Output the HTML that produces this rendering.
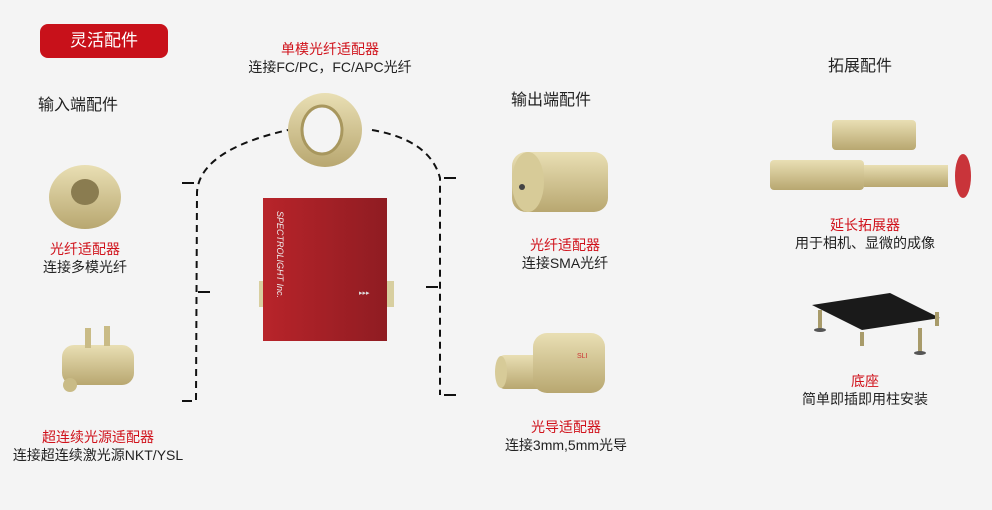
<!DOCTYPE html>
<html><head><meta charset="utf-8"><style>
body{margin:0;background:#f4f4f4;}
.w{position:relative;width:992px;height:510px;overflow:hidden;background:#f4f4f4;font-family:"Liberation Sans","Noto Sans CJK SC",sans-serif;}
.t{position:absolute;font-size:14px;color:#222;white-space:nowrap;text-align:center;line-height:18px;}
.r{color:#d0121b;}
.h{position:absolute;font-size:16px;color:#222;}
</style></head><body><div class="w">
<div style="position:absolute;left:40px;top:24px;width:128px;height:34px;background:#c8111a;border-radius:8px;color:#fff;font-size:17px;line-height:34px;text-align:center;">灵活配件</div>
<div class="h" style="left:38px;top:91px">输入端配件</div>
<div class="h" style="left:511px;top:86px">输出端配件</div>
<div class="h" style="left:828px;top:52px">拓展配件</div>
<svg width="992" height="510" style="position:absolute;left:0;top:0">
<defs>
<linearGradient id="g" x1="0" y1="0" x2="0" y2="1"><stop offset="0" stop-color="#e9dfb4"/><stop offset="1" stop-color="#b8a770"/></linearGradient>
<linearGradient id="rd" x1="0" y1="0" x2="1" y2="0"><stop offset="0" stop-color="#b8242a"/><stop offset="1" stop-color="#8f1c22"/></linearGradient>
</defs>
<g fill="none" stroke="#111" stroke-width="2" stroke-dasharray="7,5">
<path d="M196,400 L197,192 Q200,150 288,130"/>
<path d="M372,130 Q430,140 440,178 L440,395"/>
</g>
<g stroke="#111" stroke-width="2">
<path d="M182,183h12M198,292h12M182,401h10M444,178h12M426,287h12M444,395h12"/>
</g>
<!-- top ring -->
<ellipse cx="325" cy="130" rx="37" ry="37" fill="url(#g)"/>
<ellipse cx="322" cy="130" rx="20" ry="24" fill="#f4f4f4" stroke="#a8975e" stroke-width="3"/>
<!-- red box -->
<rect x="259" y="281" width="8" height="26" fill="#d8cfa0"/>
<rect x="386" y="281" width="8" height="26" fill="#d8cfa0"/>
<rect x="263" y="198" width="124" height="143" fill="url(#rd)"/>
<text x="277" y="211" transform="rotate(90 277 211)" font-size="9" fill="#eee" font-style="italic" font-family="Liberation Sans">SPECTROLIGHT Inc.</text>
<text x="359" y="295" font-size="7" fill="#ddd">▸▸▸</text>
<!-- left ring -->
<ellipse cx="85" cy="197" rx="36" ry="32" fill="url(#g)"/>
<ellipse cx="85" cy="192" rx="14" ry="13" fill="#8a7c50"/>
<!-- supercontinuum adapter -->
<rect x="62" y="345" width="72" height="40" rx="12" fill="url(#g)"/>
<rect x="85" y="328" width="6" height="20" fill="#c9bb86"/><rect x="104" y="326" width="6" height="20" fill="#c9bb86"/>
<circle cx="70" cy="385" r="7" fill="#c9bb86"/>
<!-- output SMA -->
<rect x="512" y="152" width="96" height="60" rx="14" fill="url(#g)"/>
<ellipse cx="528" cy="182" rx="16" ry="30" fill="#d7cb98"/>
<circle cx="522" cy="187" r="3" fill="#444"/>
<!-- light guide -->
<rect x="497" y="355" width="50" height="34" rx="8" fill="url(#g)"/>
<rect x="533" y="333" width="72" height="60" rx="14" fill="url(#g)"/>
<ellipse cx="501" cy="372" rx="6" ry="16" fill="#d7cb98"/>
<text x="577" y="358" font-size="7" fill="#c33">SLI</text>
<!-- extender -->
<rect x="832" y="120" width="84" height="30" rx="4" fill="url(#g)"/>
<rect x="770" y="160" width="94" height="30" rx="4" fill="url(#g)"/>
<rect x="864" y="165" width="84" height="22" fill="url(#g)"/>
<ellipse cx="963" cy="176" rx="8" ry="22" fill="#c9343a"/>
<!-- base plate -->
<polygon points="812,305 890,293 940,318 862,330" fill="#1a1a1a"/>
<g fill="#a89b6a"><rect x="818" y="310" width="4" height="18"/><rect x="918" y="328" width="4" height="24"/><rect x="860" y="332" width="4" height="14"/><rect x="935" y="312" width="4" height="14"/></g>
<g fill="#555"><ellipse cx="820" cy="330" rx="6" ry="2"/><ellipse cx="920" cy="353" rx="6" ry="2"/></g>
</svg>
<div class="t" style="left:230px;top:40px;width:200px"><span class="r">单模光纤适配器</span><br>连接FC/PC，FC/APC光纤</div>
<div class="t" style="left:0px;top:240px;width:170px"><span class="r">光纤适配器</span><br>连接多模光纤</div>
<div class="t" style="left:0px;top:428px;width:196px"><span class="r">超连续光源适配器</span><br>连接超连续激光源NKT/YSL</div>
<div class="t" style="left:480px;top:236px;width:170px"><span class="r">光纤适配器</span><br>连接SMA光纤</div>
<div class="t" style="left:480px;top:418px;width:172px"><span class="r">光导适配器</span><br>连接3mm,5mm光导</div>
<div class="t" style="left:780px;top:216px;width:170px"><span class="r">延长拓展器</span><br>用于相机、显微的成像</div>
<div class="t" style="left:780px;top:372px;width:170px"><span class="r">底座</span><br>简单即插即用柱安装</div>
</div></body></html>
